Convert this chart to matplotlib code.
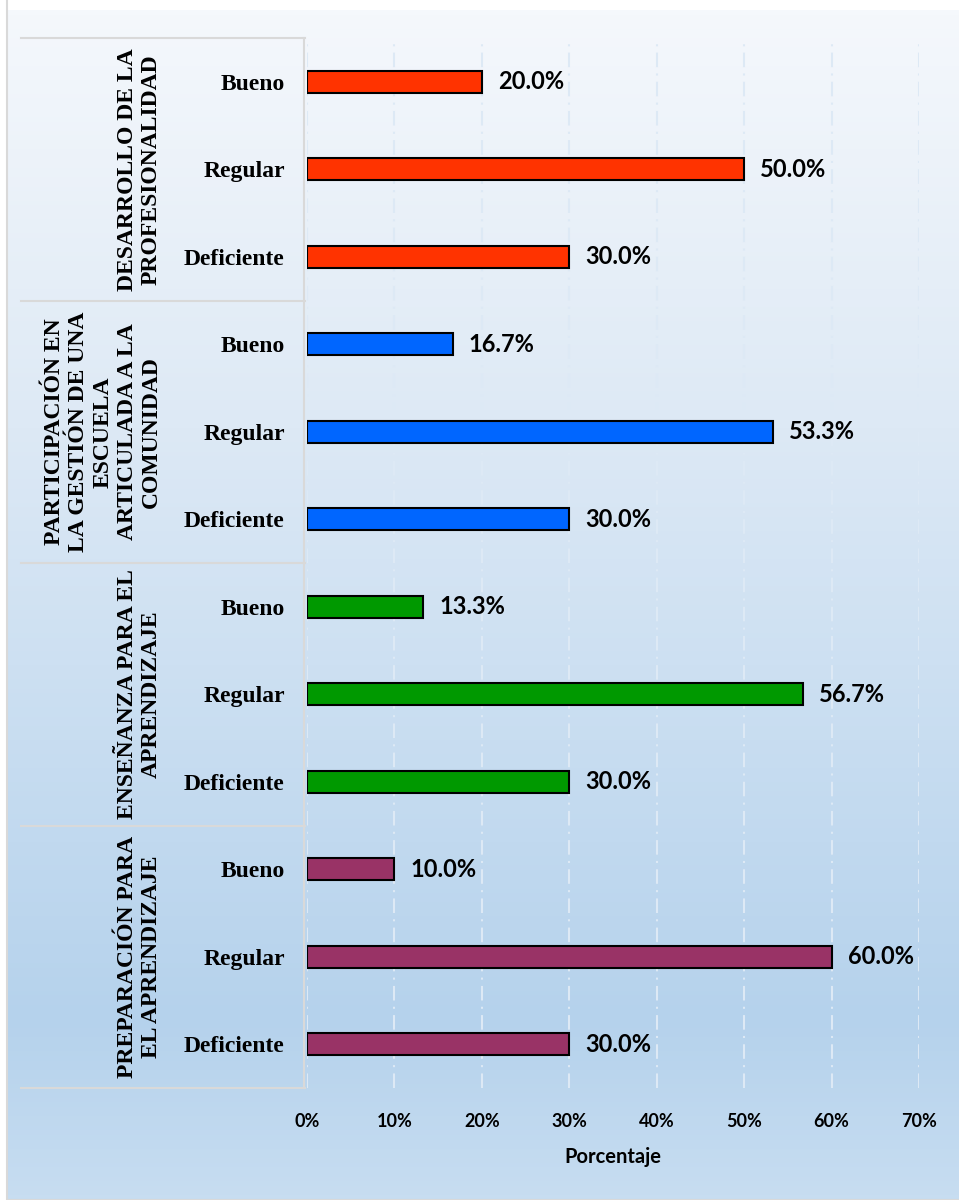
import numpy as np
import matplotlib
matplotlib.use("Agg")
import matplotlib.pyplot as plt
from matplotlib.colors import LinearSegmentedColormap
from matplotlib.patches import Rectangle
from matplotlib.ticker import PercentFormatter

# Data (top to bottom)
groups = [
    "DESARROLLO DE LA\nPROFESIONALIDAD",
    "PARTICIPACIÓN EN\nLA GESTIÓN DE UNA\nESCUELA\nARTICULADA A LA\nCOMUNIDAD",
    "ENSEÑANZA PARA EL\nAPRENDIZAJE",
    "PREPARACIÓN PARA\nEL APRENDIZAJE",
]
levels = ["Bueno", "Regular", "Deficiente"]
values = [
    [20.0, 50.0, 30.0],
    [16.7, 53.3, 30.0],
    [13.3, 56.7, 30.0],
    [10.0, 60.0, 30.0],
]
colors = ["#ff3300", "#0066ff", "#009900", "#993366"]
x_ticks = [0, 10, 20, 30, 40, 50, 60, 70]

W, H = 959, 1200
fig = plt.figure(figsize=(W / 100, H / 100), dpi=100, facecolor="white")

# Background gradient for the chart area
bg = fig.add_axes([7 / W, 0, 1 - 7 / W, (H - 10) / H], zorder=0)
cmap = LinearSegmentedColormap.from_list(
    "bg", [(0.0, "#f5f8fc"), (0.35, "#dde9f5"), (0.55, "#cde0f2"),
           (0.85, "#b5d2ec"), (1.0, "#c7ddf1")])
grad = np.linspace(0, 1, 256).reshape(-1, 1)
bg.imshow(grad, aspect="auto", cmap=cmap, extent=[0, 1, 1, 0])
bg.set_xlim(0, 1)
bg.set_ylim(1, 0)
bg.axis("off")
bg.add_patch(Rectangle((0, 0), 1.2, 1.2, fill=False, edgecolor="#d9d9d9",
                       lw=1.5, transform=bg.transAxes, clip_on=False))

# Main axes
ax = fig.add_axes([307 / W, 1 - 1088 / H, 612 / W, 1050 / H], zorder=1)
ax.set_facecolor("none")

n = len(levels)
ypos = []
labels = []
for gi, (vals, col) in enumerate(zip(values, colors)):
    pos = [gi * n + k for k in range(n)]
    ax.barh(pos, vals, height=0.25, color=col, edgecolor="black", linewidth=1.5, zorder=3)
    for p, v in zip(pos, vals):
        ax.annotate(f"{v:.1f}%", xy=(v, p), xytext=(11.5, 0), textcoords="offset points",
                    ha="left", va="center", fontsize=17, fontweight="bold",
                    family="Lato", color="black")
    ypos += pos
    labels += levels

ax.set_ylim(len(ypos) - 0.5, -0.5)
ax.set_xlim(0, 70)
ax.set_yticks(ypos)
ax.set_yticklabels(labels)
ax.tick_params(axis="y", length=0, pad=14)
ax.set_xticks(x_ticks)
ax.xaxis.set_major_formatter(PercentFormatter(decimals=0))
ax.tick_params(axis="x", length=0, pad=18)
ax.set_xlabel("Porcentaje", fontsize=14.5, fontweight="bold", family="Lato", labelpad=12)

ax.grid(axis="x", color="#dde9f5", linewidth=1.5,
        linestyle=(0, (7, 3, 1, 3)), zorder=0)
for s in ["top", "right", "bottom"]:
    ax.spines[s].set_visible(False)
ax.spines["left"].set_color("#d9d9d9")
ax.spines["left"].set_linewidth(1.5)
ax.spines["left"].set_position(("outward", 2))

# Group panel lines and labels
x_left = (21 - 307) / 612
x_right = (305 - 307) / 612
trans = ax.get_yaxis_transform()
for b in range(len(groups) + 1):
    yb = b * n - 0.5
    ax.plot([x_left, x_right], [yb, yb], color="#d9d9d9", lw=1.5,
            transform=trans, clip_on=False, zorder=2)

x_text = (162 - 307) / 612
for gi, g in enumerate(groups):
    ax.text(x_text, gi * n + (n - 1) / 2, g, transform=trans, rotation=90,
            ha="right", va="center", multialignment="center", linespacing=1.2,
            fontsize=17, fontweight="bold", family="Liberation Serif")

fig.canvas.draw()
for t in ax.get_yticklabels():
    t.set_fontsize(17)
    t.set_fontweight("bold")
    t.set_family("Liberation Serif")
for t in ax.get_xticklabels():
    t.set_fontsize(13)
    t.set_fontweight("bold")
    t.set_family("Lato")

fig.savefig("out.png", dpi=100, facecolor="white")
